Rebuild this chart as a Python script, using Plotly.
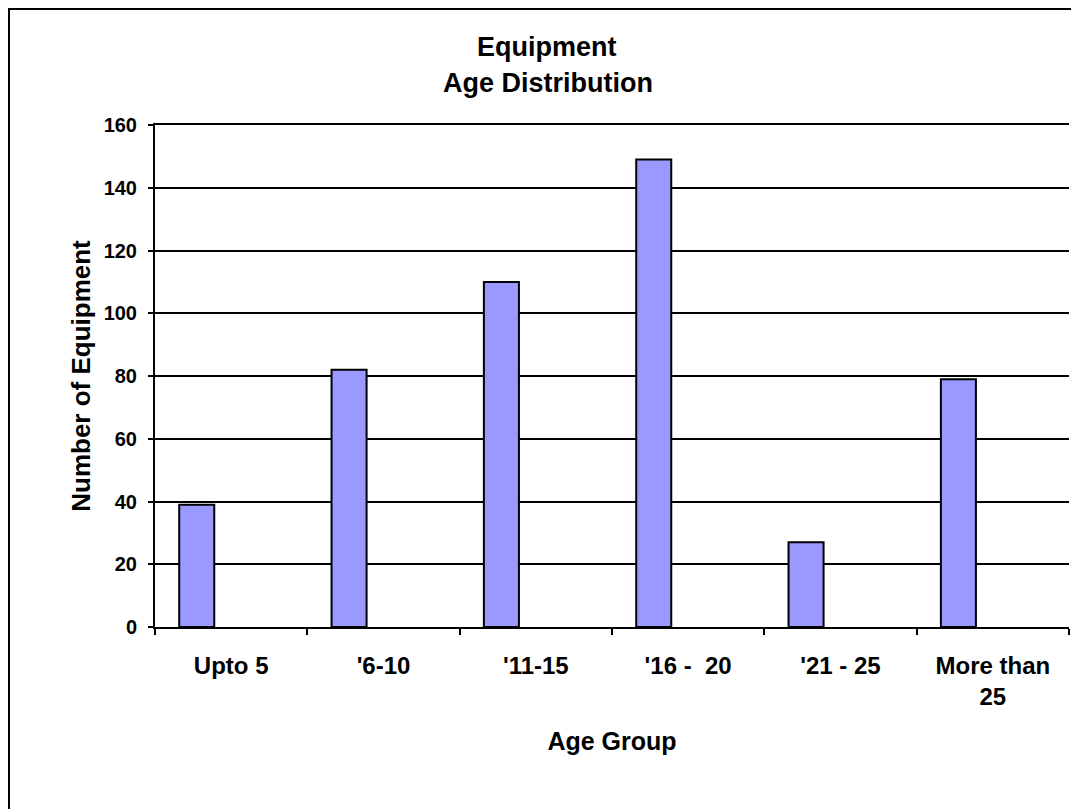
import plotly.graph_objects as go

categories = ["Upto 5", "'6-10", "'11-15", "'16 -\u00a0 20", "'21 - 25", "More than<br>25"]
counts = [39, 82, 110, 149, 27, 79]
y_ticks = [0, 20, 40, 60, 80, 100, 120, 140, 160]

# page body has an 8px margin, so the figure is drawn 8px in from the window edge
OFF = 8
W, H = 1079 - OFF, 809 - OFF
ML, MR, MT, MB = 155 - OFF, 10, 125 - OFF, 182
PW, PH = W - ML - MR, H - MT - MB

def px_x(p):  # screenshot px -> paper
    return (p - OFF - ML) / PW

def px_y(p):
    return (H - MB - (p - OFF)) / PH

FONT = "Liberation Sans"

fig = go.Figure()
fig.add_trace(go.Bar(
    x=categories, y=counts,
    width=0.23, offset=-0.341,
    marker=dict(color="#9999FF", line=dict(color="black", width=2)),
    showlegend=False,
))

fig.update_layout(
    width=W, height=H,
    margin=dict(l=ML, r=MR, t=MT, b=MB),
    paper_bgcolor="white", plot_bgcolor="white",
    font=dict(family=FONT, color="black"),
    xaxis=dict(
        type="category", range=[-0.5, 5.5],
        showline=True, linecolor="black", linewidth=2, mirror=True,
        ticks="outside", ticklen=6, tickwidth=2, tickcolor="black",
        tickson="boundaries",
        tickfont=dict(family=FONT, size=24, color="black", weight="bold"),
        ticklabelstandoff=16,
        title=dict(text="<b>Age Group</b>", font=dict(family=FONT, size=25), standoff=23),
        showgrid=False,
    ),
    yaxis=dict(
        range=[0, 160], tickvals=y_ticks,
        showline=True, linecolor="black", linewidth=2,
        ticks="outside", ticklen=5, tickwidth=2, tickcolor="black",
        tickfont=dict(family=FONT, size=20, color="black", weight="bold"),
        ticklabelstandoff=7,
        showgrid=True, gridcolor="black", gridwidth=2,
        zeroline=False,
        title=dict(text="<b>Number of Equipment</b>", font=dict(family=FONT, size=26), standoff=6),
    ),
    annotations=[
        dict(text="<b>Equipment</b>", xref="paper", yref="paper",
             x=px_x(547), y=px_y(47), xanchor="center", yanchor="middle",
             showarrow=False, font=dict(family=FONT, size=27, color="black")),
        dict(text="<b>Age Distribution</b>", xref="paper", yref="paper",
             x=px_x(548), y=px_y(83), xanchor="center", yanchor="middle",
             showarrow=False, font=dict(family=FONT, size=27, color="black")),
    ],
    shapes=[
        dict(type="rect", xref="paper", yref="paper",
             x0=px_x(OFF + 1), x1=px_x(1100), y0=px_y(830), y1=px_y(OFF + 1),
             line=dict(color="black", width=2), fillcolor="rgba(0,0,0,0)", layer="above"),
    ],
)

fig.write_html("out.html")
